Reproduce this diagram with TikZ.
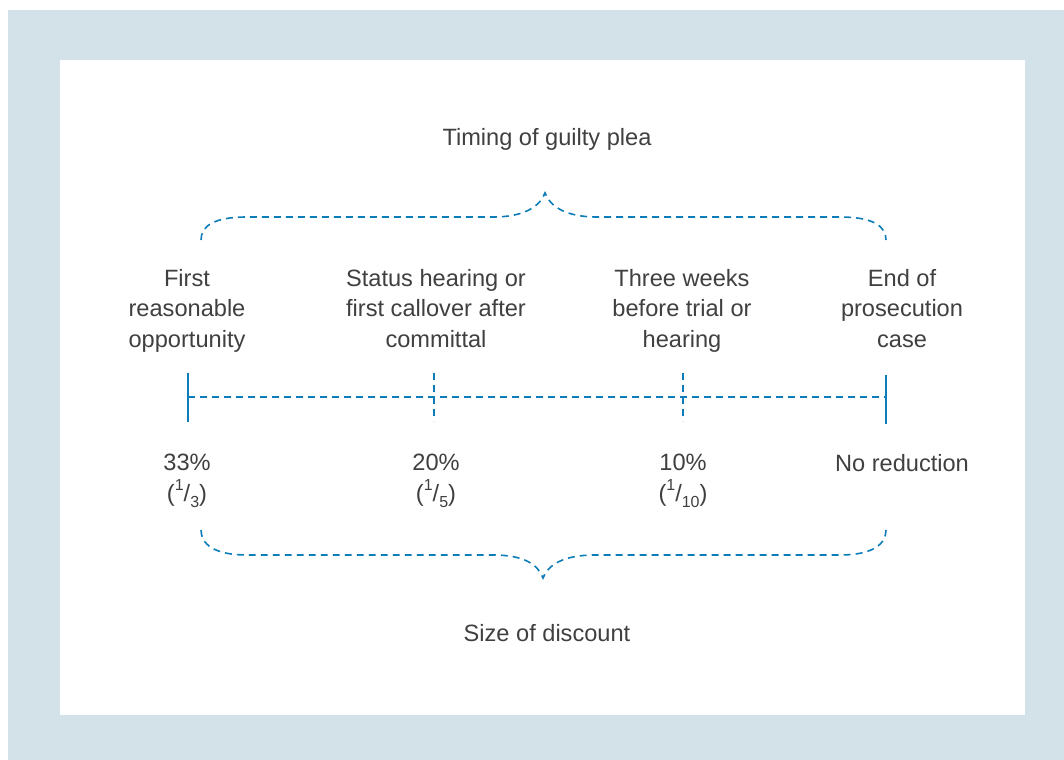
\documentclass[tikz,border=0pt]{standalone}
\usepackage{fontspec}
\setmainfont{Liberation Sans}
\begin{document}
\definecolor{frameblue}{RGB}{211,226,233}
\definecolor{lineblue}{RGB}{12,125,184}
\definecolor{textgray}{RGB}{64,64,64}
\tikzset{
  label/.style={align=center, text=textgray, inner sep=0pt,
    font=\fontsize{17.7pt}{22.9pt}\selectfont},
  stacked/.style={label, execute at begin node=\strut, execute at end node=\strut},
  dashline/.style={draw=lineblue, line width=1.2pt, dash pattern=on 5.2pt off 3.8pt},
  solidtick/.style={draw=lineblue, line width=2.2pt},
}
\newcommand{\frc}[2]{(\raisebox{0.45em}{\fontsize{12pt}{12pt}\selectfont #1}/\raisebox{-0.25em}{\fontsize{12pt}{12pt}\selectfont #2})}
\begin{tikzpicture}[x=0.75pt, y=-0.75pt]
  \useasboundingbox (0,0) rectangle (1064,760);
  % page frame
  \fill[white] (0,0) rectangle (1064,760);
  \fill[frameblue] (8,10) rectangle (1064,760);
  \fill[white] (60,60) rectangle (1025,715);

  % headings
  \node[label] (title) at (547,139) {Timing of guilty plea};
  \node[label] (size) at (547,633) {Size of discount};

  % upper brace
  \draw[dashline] (201,240) .. controls (201,226) and (214,217) .. (247,217)
    -- (493,217) .. controls (525,217) and (540,206) .. (545,193)
    .. controls (550,206) and (565,217) .. (597,217)
    -- (840,217) .. controls (873,217) and (886,226) .. (886,240);

  % lower brace
  \draw[dashline] (201,530) .. controls (201,544) and (214,555) .. (247,555)
    -- (493,555) .. controls (525,555) and (538,565) .. (543,578)
    .. controls (548,565) and (563,555) .. (595,555)
    -- (840,555) .. controls (873,555) and (886,544) .. (886,530);

  % stages
  \node[stacked] (s1) at (187,313) {First\\reasonable\\opportunity};
  \node[stacked] (s2) at (436,313) {Status hearing or\\first callover after\\committal};
  \node[stacked] (s3) at (682,313) {Three weeks\\before trial or\\hearing};
  \node[stacked] (s4) at (902,313) {End of\\prosecution\\case};

  % timeline
  \coordinate (t1) at (188,397);
  \coordinate (t2) at (434,397);
  \coordinate (t3) at (683,397);
  \coordinate (t4) at (886,397);
  \draw[dashline] (t1) -- (t4);
  \draw[solidtick] ([shift={(0,-24)}]t1) -- ([shift={(0,25)}]t1);
  \draw[dashline] ([shift={(0,-24)}]t2) -- ([shift={(0,24)}]t2);
  \draw[dashline] ([shift={(0,-24)}]t3) -- ([shift={(0,24)}]t3);
  \draw[solidtick] ([shift={(0,-22)}]t4) -- ([shift={(0,27)}]t4);

  % discounts
  \node[stacked] (d1) at (187,482.5) {33\%\\\frc{1}{3}};
  \node[stacked] (d2) at (436,482.5) {20\%\\\frc{1}{5}};
  \node[stacked] (d3) at (683,482.5) {10\%\\\frc{1}{10}};
  \node[label] (d4) at (902,463) {No reduction};
\end{tikzpicture}
\end{document}
